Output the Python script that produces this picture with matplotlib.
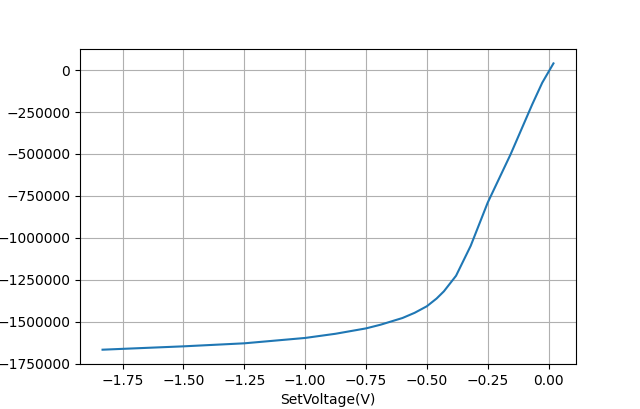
import numpy as np
import matplotlib
matplotlib.use('Agg')
import matplotlib.pyplot as plt

# values
set_voltage = [-1.832, -1.75, -1.5, -1.25, -1.0, -0.875, -0.75, -0.69, -0.6,
               -0.55, -0.5, -0.46, -0.43, -0.38, -0.32, -0.25, -0.156,
               -0.067, -0.026, 0.02]
current = [-1667000, -1662000, -1647000, -1629000, -1597000, -1572000,
           -1540000, -1518000, -1478000, -1447000, -1408000, -1362000,
           -1319000, -1226000, -1048000, -790000, -502000, -204000,
           -75000, 40000]

fig, ax = plt.subplots(figsize=(6.4, 4.09), dpi=100)
ax.plot(set_voltage, current)
ax.set_xlabel('SetVoltage(V)')
ax.ticklabel_format(axis='y', style='plain', useOffset=False)
ax.grid(True)

fig.savefig('out.png')
